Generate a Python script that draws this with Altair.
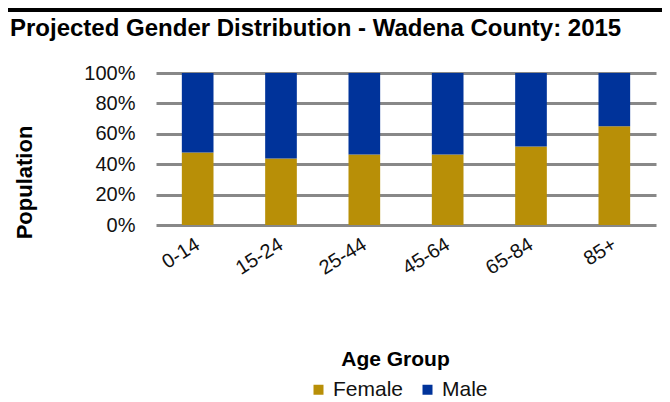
import altair as alt
import pandas as pd

age_groups = ["0-14", "15-24", "25-44", "45-64", "65-84", "85+"]
female = [47.7, 43.8, 46.4, 46.4, 51.6, 65.0]
male = [52.3, 56.2, 53.6, 53.6, 48.4, 35.0]
genders = ["Female", "Male"]
colors = ["#B88F07", "#00339A"]
title_text = ["Projected Gender Distribution - Wadena County: 2015"]

rows = []
for i, g in enumerate(age_groups):
    rows.append({"age": g, "gender": "Female", "value": female[i], "ord": 0})
    rows.append({"age": g, "gender": "Male", "value": male[i], "ord": 1})
df = pd.DataFrame(rows)

FONT = "Liberation Sans"

bars = alt.Chart(df).mark_bar().encode(
    x=alt.X("age:N", sort=age_groups,
            scale=alt.Scale(paddingInner=0.62, paddingOuter=0.31),
            axis=alt.Axis(title="Age Group", labelAngle=-32, labelFontSize=20,
                          labelFont=FONT, labelColor="#111", labelPadding=9,
                          labelOffset=-5,
                          domain=False, ticks=False, grid=False,
                          titleFont=FONT, titleFontSize=21, titleFontWeight="bold",
                          titleX=239, titleY=134, titleBaseline="middle",
                          titleColor="#000")),
    y=alt.Y("value:Q", stack="normalize",
            axis=alt.Axis(title="Population", format=".0%",
                          values=[0, 0.2, 0.4, 0.6, 0.8, 1.0],
                          labelFontSize=20, labelFont=FONT, labelColor="#111",
                          labelPadding=21, domain=False, ticks=False,
                          grid=True, gridColor="#888888", gridWidth=3,
                          titleFont=FONT, titleFontSize=22, titleFontWeight="bold",
                          titleX=-132, titleY=109, titleAngle=-90,
                          titleAlign="center", titleBaseline="middle",
                          titleColor="#000")),
    color=alt.Color("gender:N", scale=alt.Scale(domain=genders, range=colors),
                    legend=alt.Legend(title=None, orient="none", legendX=152, legendY=306,
                                      direction="horizontal", symbolType="square",
                                      symbolSize=100, symbolStrokeWidth=0,
                                      labelFontSize=21, labelFont=FONT,
                                      labelColor="#111", columnPadding=13)),
    order=alt.Order("ord:Q"),
)

topline = alt.Chart(pd.DataFrame({"a": [0]})).mark_rule(color="black", strokeWidth=4).encode(
    x=alt.value(-160), x2=alt.value(520), y=alt.value(-63)
)

title = alt.Chart(pd.DataFrame({"t": title_text})).mark_text(
    align="left", baseline="alphabetic", fontSize=24, font=FONT,
    fontWeight="bold", color="#000"
).encode(text="t:N", x=alt.value(-146), y=alt.value(-37))

chart = alt.layer(topline, title, bars).properties(
    width=500, height=152,
    autosize=alt.AutoSizeParams(type="none"),
    padding={"left": 148, "top": 65, "right": 6, "bottom": 177},
).configure_view(stroke=None)

chart.save("out.html", embed_options={"renderer": "svg", "actions": False})
